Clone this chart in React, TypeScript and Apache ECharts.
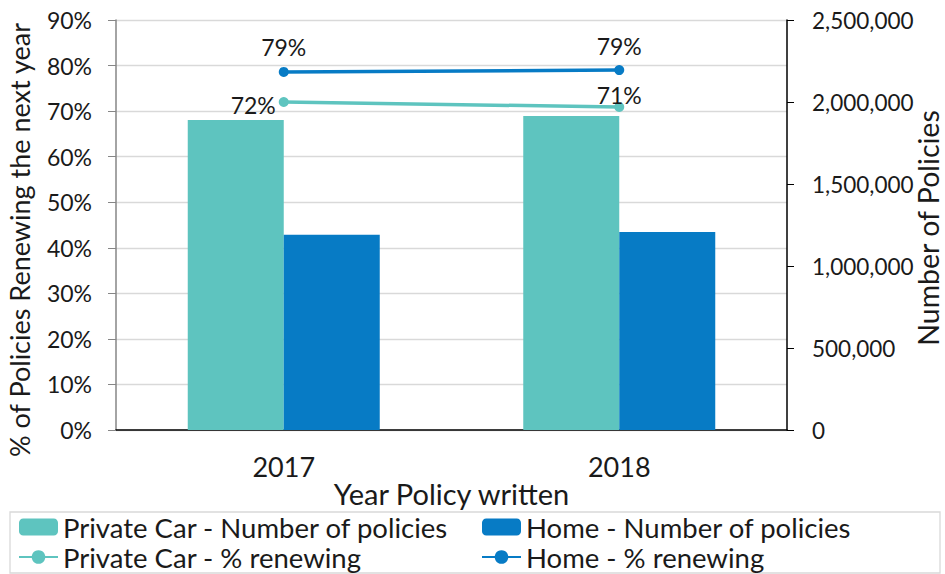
import React, { useEffect, useRef } from "react";
import * as echarts from "echarts";

const years = ["2017", "2018"];
const carPolicies = [1890000, 1915000];
const homePolicies = [1190000, 1207000];
const carRenewing = [72.0, 70.9];
const homeRenewing = [78.6, 79.0];
const pctTicks = { min: 0, max: 90, interval: 10 };
const countTicks = { min: 0, max: 2500000, interval: 500000 };

const TEAL = "#5EC4BF";
const BLUE = "#077BC5";
const FONT = "Lato";
const TXT = "#1a1a1a";

export default function App() {
  const ref = useRef<HTMLDivElement>(null);
  useEffect(() => {
    if (!ref.current) return;
    const chart = echarts.init(ref.current, undefined, { renderer: "svg" });
    chart.setOption({
      animation: false,
      textStyle: { fontFamily: FONT, color: TXT },
      grid: {
        left: 116,
        right: 158,
        top: 20,
        bottom: 144,
        containLabel: false,
        outerBoundsMode: "none",
      },
      graphic: [
        {
          type: "rect",
          shape: { x: 10, y: 512, width: 930, height: 61 },
          style: { fill: "none", stroke: "#d9d9d9", lineWidth: 1.3 },
          silent: true,
        },
      ],
      legend: [
        {
          data: ["Private Car - Number of policies", "Private Car - % renewing"],
          orient: "vertical",
          left: 18,
          top: 513,
          itemWidth: 39,
          itemHeight: 17,
          itemGap: 2,
          padding: 0,
          textStyle: { fontFamily: FONT, fontSize: 27.5, color: TXT },
        },
        {
          data: ["Home - Number of policies", "Home - % renewing"],
          orient: "vertical",
          left: 481,
          top: 513,
          itemWidth: 39,
          itemHeight: 17,
          itemGap: 2,
          padding: 0,
          textStyle: { fontFamily: FONT, fontSize: 27.5, color: TXT },
        },
      ],
      xAxis: {
        type: "category",
        data: years,
        name: "Year Policy written",
        nameLocation: "middle",
        nameGap: 49,
        nameMoveOverlap: false,
        nameTextStyle: { fontFamily: FONT, fontSize: 29, color: TXT },
        axisLine: { show: true, lineStyle: { color: "#000", width: 1.5 } },
        axisTick: { show: false },
        axisLabel: { fontFamily: FONT, fontSize: 27, color: TXT, margin: 23 },
      },
      yAxis: [
        {
          type: "value",
          min: pctTicks.min,
          max: pctTicks.max,
          interval: pctTicks.interval,
          name: "% of Policies Renewing the next year",
          nameLocation: "middle",
          nameGap: 83,
          nameMoveOverlap: false,
          nameTextStyle: { fontFamily: FONT, fontSize: 27, color: TXT, padding: [0, 30, 0, 0] },
          axisLine: { show: true, lineStyle: { color: "#868686", width: 1.5 } },
          axisTick: { show: true, length: 8, lineStyle: { color: "#868686" } },
          axisLabel: {
            fontFamily: FONT,
            fontSize: 23,
            color: TXT,
            margin: 24,
            formatter: (v: number) => `${v}%`,
          },
          splitLine: { show: true, lineStyle: { color: "#d9d9d9", width: 1.3 } },
        },
        {
          type: "value",
          position: "right",
          min: countTicks.min,
          max: countTicks.max,
          interval: countTicks.interval,
          name: "Number of Policies",
          nameLocation: "middle",
          nameGap: 128,
          nameMoveOverlap: false,
          nameTextStyle: {
            fontFamily: FONT,
            fontSize: 28.5,
            lineHeight: 25,
            color: TXT,
            padding: [0, 6, 0, 0],
          },
          axisLine: { show: true, lineStyle: { color: "#000", width: 1.5 } },
          axisTick: { show: true, length: 7, lineStyle: { color: "#000" } },
          axisLabel: {
            fontFamily: FONT,
            fontSize: 22.5,
            color: TXT,
            margin: 25,
            formatter: (v: number) => v.toLocaleString("en-US"),
          },
          splitLine: { show: false },
        },
      ],
      series: [
        {
          name: "Private Car - Number of policies",
          type: "bar",
          yAxisIndex: 1,
          data: carPolicies,
          barWidth: 96,
          barGap: "0%",
          itemStyle: { color: TEAL },
        },
        {
          name: "Home - Number of policies",
          type: "bar",
          yAxisIndex: 1,
          data: homePolicies,
          barWidth: 96,
          barGap: "0%",
          itemStyle: { color: BLUE },
        },
        {
          name: "Private Car - % renewing",
          type: "line",
          yAxisIndex: 0,
          data: [
            { value: carRenewing[0], label: { position: "left", distance: 3, offset: [0, 3] } },
            { value: carRenewing[1], label: { position: "top", distance: -4 } },
          ],
          symbol: "circle",
          symbolSize: 10,
          lineStyle: { color: TEAL, width: 3.5 },
          itemStyle: { color: TEAL },
          label: {
            show: true,
            fontFamily: FONT,
            fontSize: 23,
            color: TXT,
            formatter: (p: any) => `${Math.round(p.value)}%`,
          },
          z: 5,
        },
        {
          name: "Home - % renewing",
          type: "line",
          yAxisIndex: 0,
          data: homeRenewing,
          symbol: "circle",
          symbolSize: 10,
          lineStyle: { color: BLUE, width: 3.5 },
          itemStyle: { color: BLUE },
          label: {
            show: true,
            position: "top",
            distance: 8,
            fontFamily: FONT,
            fontSize: 23,
            color: TXT,
            formatter: (p: any) => `${Math.round(p.value)}%`,
          },
          z: 5,
        },
      ],
    });
    return () => chart.dispose();
  }, []);
  return <div ref={ref} style={{ width: 945, height: 574, position: "absolute", left: 0, top: 0 }} />;
}
